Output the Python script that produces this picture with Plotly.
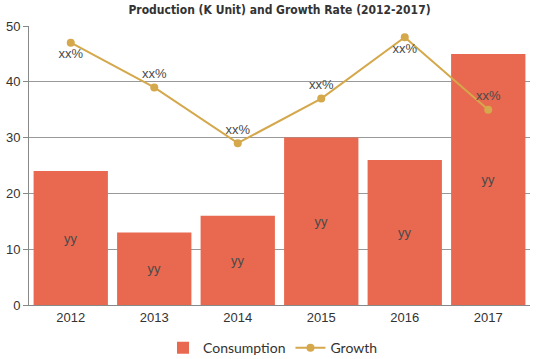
import plotly.graph_objects as go

years = ["2012", "2013", "2014", "2015", "2016", "2017"]
consumption = [24, 13, 16, 30, 26, 45]
growth = [47, 39, 29, 37, 48, 35]
bar_labels = ["yy"] * 6
growth_labels = ["xx%"] * 6
growth_label_pos = ["bottom center", "top center", "top center", "top center", "bottom center", "top center"]

fig = go.Figure()
fig.add_trace(go.Bar(
    x=years, y=consumption, name="Consumption",
    marker=dict(color="#E8694F", line=dict(width=0)),
    text=bar_labels, textposition="inside", insidetextanchor="middle",
    textfont=dict(color="#4a4a4a", size=13, family="Liberation Sans"),
))
fig.add_trace(go.Scatter(
    x=years, y=growth, name="Growth", mode="lines+markers+text",
    line=dict(color="#D4A84B", width=2),
    marker=dict(color="#D4A84B", size=8),
    text=growth_labels, textposition=growth_label_pos,
    textfont=dict(color="#4a4a4a", size=13, family="Liberation Sans"),
))
fig.update_layout(
    width=539, height=359,
    margin=dict(l=29, r=9, t=26, b=54),
    paper_bgcolor="white", plot_bgcolor="white",
    bargap=0.11,
    title=dict(text="<b>Production (K Unit) and Growth Rate (2012-2017)</b>",
               x=0.5, xanchor="center", xref="paper", y=0.985, yanchor="top",
               font=dict(family="DejaVu Sans Condensed, DejaVu Sans", size=12, color="#333333")),
    showlegend=True,
    legend=dict(orientation="h", x=0.487, xanchor="center", yref="container", y=0.03, yanchor="middle",
                font=dict(family="Lato", size=14, color="#333333")),
    xaxis=dict(showline=True, linecolor="#888888", linewidth=1, ticks="", automargin=False,
               tickfont=dict(family="Liberation Sans", size=13, color="#333333")),
    yaxis=dict(range=[0, 50], dtick=10, showgrid=True, gridcolor="#999999", gridwidth=1,
               showline=True, linecolor="#888888", linewidth=1, ticks="outside", ticklen=5,
               tickcolor="#888888", zeroline=False, automargin=False,
               tickfont=dict(family="Liberation Sans", size=13, color="#333333")),
)
fig.write_html("out.html", config={"displayModeBar": False},
               post_script="document.body.style.margin='0';")
